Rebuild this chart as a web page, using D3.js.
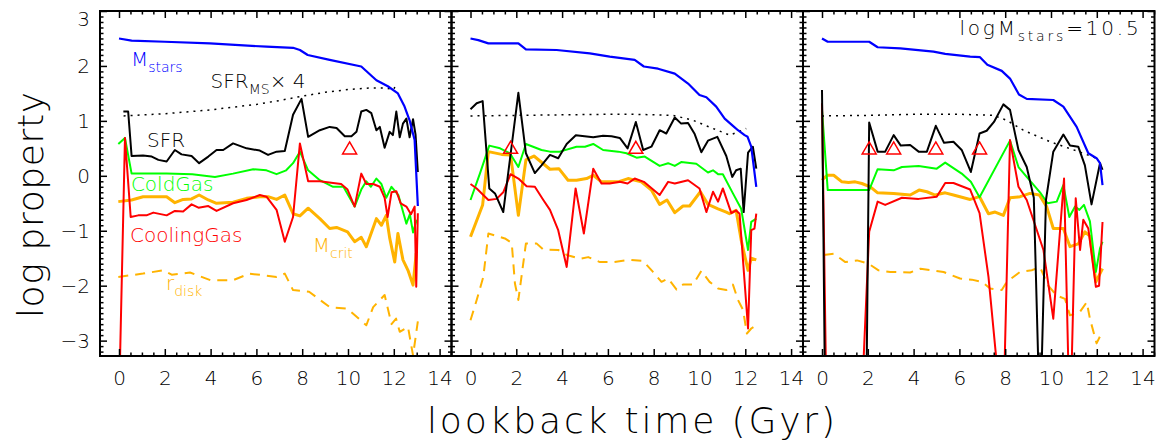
<!DOCTYPE html>
<html><head><meta charset="utf-8">
<script src="https://cdn.jsdelivr.net/npm/d3@7/dist/d3.min.js"></script>
<style>
body{margin:0;background:#fff;}
svg text{font-family:"DejaVu Sans",sans-serif;font-weight:200;}
</style></head>
<body><svg id="c" width="1160" height="444"></svg>
<script>
// ---------- data ----------
const xTicksMajor = [0,2,4,6,8,10,12,14];
const yTicksMajor = [-3,-2,-1,0,1,2,3];
const xDomain = [-0.83, 14.52];
const yDomain = [-3.28, 3.0];

// Panel 1
const p1Mstars = [[0,2.50],[0.55,2.46],[2,2.44],[3.97,2.41],[6.44,2.35],[7.6,2.33],[7.9,2.29],[8.24,2.20],[9.2,2.11],[10.58,1.99],[11.24,1.74],[11.74,1.63],[12.18,1.50],[12.47,1.26],[12.69,1.01],[12.91,0.65],[13.05,-0.55]];
const p1SfrMS = [[0.2,1.09],[2,1.13],[4,1.2],[6,1.3],[7,1.37],[8,1.45],[9,1.52],[10,1.57],[11,1.6],[11.6,1.6],[12.0,1.57],[12.1,1.68]];
const p1SFR = [[0.19,1.17],[0.4,1.17],[0.55,0.36],[1.05,0.37],[1.43,0.35],[1.72,0.29],[2.08,0.26],[2.44,0.47],[2.73,0.39],[3.17,0.36],[3.5,0.23],[3.9,0.35],[4.26,0.47],[4.55,0.47],[4.98,0.59],[5.57,0.5],[6.15,0.46],[6.51,0.38],[6.88,0.44],[7.24,0.45],[7.6,1.11],[7.97,1.4],[8.26,0.71],[8.77,0.83],[9.2,0.89],[9.5,0.87],[9.86,0.72],[10.15,0.72],[10.37,0.8],[10.58,1.17],[10.8,1.2],[11.02,1.14],[11.24,0.83],[11.39,0.89],[11.6,0.51],[11.82,0.8],[11.96,0.74],[12.11,1.17],[12.26,0.7],[12.4,0.95],[12.55,1.04],[12.69,0.7],[12.84,1.03],[12.95,0.75],[13.05,0.07]];
const p1Cold = [[-0.03,0.58],[0.26,0.69],[0.55,0.04],[1.05,0.04],[2.08,0.04],[3.2,0.03],[4.19,-0.02],[4.98,0.04],[5.86,0.12],[6.44,0.1],[6.88,0.03],[7.3,0.1],[7.6,0.23],[7.9,0.44],[8.26,0.1],[8.77,-0.08],[9.35,-0.2],[9.8,-0.2],[10.29,-0.56],[10.58,-0.25],[10.8,-0.1],[11.0,-0.2],[11.24,-0.05],[11.46,-0.15],[11.67,-0.4],[11.9,-0.2],[12.2,-0.35],[12.4,-0.65],[12.55,-0.87],[12.7,-0.7],[12.84,-1.03],[13.0,-0.8]];
const p1Cool = [[0.03,-3.6],[0.26,0.69],[0.51,-0.75],[0.84,-0.72],[1.2,-0.72],[1.5,-0.67],[2.08,-0.72],[2.44,-0.64],[2.8,-0.65],[3.17,-0.52],[3.47,-0.58],[3.9,-0.55],[4.26,-0.64],[4.98,-0.5],[5.57,-0.44],[6.15,-0.35],[6.44,-0.38],[6.88,-0.62],[7.24,-1.2],[7.6,-0.75],[7.9,0.59],[8.26,-0.1],[8.77,-0.1],[9.35,-0.13],[9.7,-0.15],[9.98,-0.25],[10.29,-0.56],[10.58,0.04],[10.8,-0.15],[11.1,-0.15],[11.39,-0.2],[11.6,-0.4],[11.73,-0.75],[11.9,-0.3],[12.11,-0.28],[12.3,-0.5],[12.55,-0.56],[12.75,-0.7],[12.91,-0.56],[12.98,-2.02],[13.05,-0.68]];
const p1Mcrit = [[-0.03,-0.47],[0.55,-0.44],[1.05,-0.38],[1.45,-0.38],[2.08,-0.38],[2.44,-0.49],[2.8,-0.43],[3.17,-0.42],[3.5,-0.35],[3.9,-0.44],[4.26,-0.5],[4.98,-0.48],[5.57,-0.41],[6.15,-0.38],[6.51,-0.38],[6.88,-0.43],[7.24,-0.35],[7.6,-0.69],[7.9,-0.73],[8.26,-0.59],[8.77,-0.78],[9.2,-0.96],[9.5,-0.94],[9.98,-1.02],[10.29,-1.2],[10.58,-1.12],[10.8,-1.29],[11.24,-0.78],[11.46,-0.9],[11.67,-0.72],[11.82,-1.13],[12.04,-1.57],[12.18,-1.05],[12.4,-1.53],[12.62,-1.72],[12.84,-1.99],[12.98,-1.41]];
const p1Rdisk = [[-0.03,-1.84],[1.05,-1.78],[1.92,-1.72],[2.3,-1.8],[3.1,-1.76],[4.0,-1.9],[4.98,-1.9],[5.7,-1.78],[6.88,-1.84],[7.24,-1.78],[7.6,-2.08],[8.3,-2.11],[9.2,-2.39],[9.98,-2.42],[10.8,-2.72],[11.1,-2.39],[11.6,-2.17],[11.9,-2.7],[12.1,-2.6],[12.26,-2.84],[12.62,-2.75],[12.84,-3.27],[13.05,-2.65]];
const p1Tri = [[10.07,0.49]];

// Panel 2
const p2Mstars = [[0,2.5],[0.34,2.47],[0.78,2.41],[2.09,2.41],[2.42,2.3],[3.76,2.29],[5.21,2.23],[6.08,2.17],[7.17,2.11],[7.57,1.99],[8.19,1.95],[8.92,1.86],[9.5,1.68],[10.0,1.47],[10.3,1.43],[10.73,1.26],[11.1,1.04],[11.46,0.91],[11.68,0.83],[11.97,0.74],[12.1,0.71],[12.26,0.53],[12.48,-0.2]];
const p2SfrMS = [[0,1.09],[2,1.1],[4,1.11],[6,1.12],[7.1,1.12],[8.85,1.1],[9.72,1.01],[10.3,0.91],[11.32,0.74],[12.04,0.86]];
const p2SFR = [[0,1.21],[0.27,1.32],[0.53,1.36],[0.82,-0.23],[1.07,-0.32],[1.43,-0.66],[2.09,1.51],[2.42,0.41],[2.81,0.05],[3.1,0.19],[3.47,0.38],[3.83,0.32],[4.2,0.58],[4.6,0.74],[5.36,0.7],[5.79,0.73],[6.16,0.72],[6.52,0.69],[6.86,0.5],[7.22,0.98],[7.54,0.47],[7.9,0.53],[8.26,0.83],[8.55,0.77],[8.92,1.06],[9.2,0.95],[9.5,0.96],[9.79,0.76],[10.08,0.43],[10.37,0.64],[10.78,0.71],[11.17,0.36],[11.43,-0.02],[11.6,0.1],[11.8,0.13],[11.93,-0.66],[12.12,0.42],[12.33,0.53],[12.48,0.13]];
const p2Cold = [[0,-0.44],[0.41,0.04],[0.82,0.55],[1.29,0.5],[1.72,0.41],[2.09,0.16],[2.42,0.58],[3.1,0.47],[3.47,0.44],[3.9,0.44],[4.63,0.53],[5.0,0.53],[5.36,0.58],[5.79,0.47],[6.45,0.44],[6.81,0.41],[7.25,0.33],[7.61,0.35],[8.26,0.18],[8.63,0.23],[8.92,0.18],[9.2,0.25],[9.86,0.22],[10.37,0.06],[10.59,0.1],[10.81,0.03],[11.02,0.03],[11.46,-0.32],[11.82,-0.6],[12.12,-1.35],[12.26,-0.84],[12.48,-0.78]];
const p2Cool = [[0,-0.15],[0.27,-0.23],[0.78,-0.44],[1.14,-0.42],[1.43,-0.3],[1.75,0.03],[2.09,-0.05],[2.45,-0.19],[2.81,-0.2],[3.18,-0.44],[3.47,-0.62],[3.83,-0.99],[4.2,-1.66],[4.59,-0.23],[4.95,-1.05],[5.36,0.13],[5.72,-0.14],[6.08,-0.14],[6.52,-0.11],[6.86,-0.14],[7.17,-0.05],[7.57,-0.11],[8.26,-0.35],[8.63,-0.11],[8.92,-0.14],[9.5,-0.08],[10.0,-0.23],[10.3,-0.66],[10.59,-0.29],[10.81,-0.47],[11.02,-0.23],[11.39,-0.68],[11.6,-0.63],[11.75,-0.69],[12.12,-2.78],[12.26,-0.99],[12.4,-0.96],[12.48,-0.69]];
const p2Mcrit = [[0,-1.11],[0.53,-0.53],[0.78,0.44],[1.36,0.39],[1.75,0.38],[2.09,-0.72],[2.42,0.29],[2.77,0.36],[3.47,0.12],[3.86,0.13],[4.26,-0.08],[4.63,-0.08],[5.07,-0.05],[5.36,0.01],[5.72,-0.11],[6.45,-0.11],[6.88,-0.05],[7.46,-0.11],[7.9,-0.26],[8.26,-0.52],[8.58,-0.44],[8.92,-0.67],[9.28,-0.55],[9.57,-0.55],[10.04,-0.29],[10.37,-0.52],[10.81,-0.6],[11.17,-0.66],[11.31,-0.69],[11.6,-0.63],[11.82,-1.17],[12.12,-1.72],[12.26,-1.5],[12.48,-1.53]];
const p2Rdisk = [[0,-2.63],[0.27,-2.26],[0.56,-1.84],[0.78,-1.05],[1.5,-1.14],[1.8,-1.22],[1.94,-1.96],[2.09,-2.26],[2.42,-1.23],[2.88,-1.23],[3.17,-1.34],[3.83,-1.35],[4.2,-1.44],[4.78,-1.51],[5.14,-1.48],[5.65,-1.57],[6.23,-1.57],[6.96,-1.53],[7.54,-1.55],[7.97,-1.75],[8.34,-1.93],[8.63,-1.87],[9.0,-2.07],[9.28,-1.98],[9.72,-1.98],[10.08,-1.73],[10.44,-1.93],[10.81,-2.05],[11.17,-2.08],[11.46,-1.98],[11.68,-2.26],[11.9,-2.44],[12.07,-2.87],[12.26,-2.78],[12.48,-2.72]];
const p2Tri = [[1.75,0.5],[7.22,0.5]];

// Panel 3
const p3Mstars = [[0,2.5],[0.25,2.44],[2.06,2.44],[2.43,2.34],[3.42,2.32],[4.87,2.26],[5.38,2.22],[6.47,2.17],[6.9,2.16],[7.22,2.02],[7.85,1.91],[8.21,1.77],[8.6,1.48],[8.94,1.4],[10.1,1.38],[10.54,1.26],[11.12,0.89],[11.63,0.41],[11.99,0.32],[12.14,0.23],[12.25,-0.17]];
const p3SfrMS = [[0,1.09],[2,1.1],[4,1.12],[6,1.12],[7.49,1.1],[8.07,1.01],[8.79,0.83],[9.96,0.62],[11.41,0.41],[12.1,0.3]];
const p3SFR = [[0,1.56],[0.12,-3.5],[1.95,-3.5],[2.06,0.97],[2.43,0.44],[2.76,0.44],[3.13,0.74],[3.44,0.55],[3.85,0.56],[4.22,0.44],[4.58,0.44],[4.97,0.91],[5.33,0.6],[5.74,0.62],[6.1,0.47],[6.5,0.07],[6.88,0.77],[7.19,0.82],[7.51,0.98],[7.92,1.3],[8.21,1.2],[8.58,0.47],[8.94,0.16],[9.25,-0.4],[9.45,-3.5],[9.59,-3.5],[9.78,-0.44],[10.1,0.44],[10.54,0.75],[10.83,0.55],[11.19,0.53],[11.48,0.19],[11.77,-0.52],[12.14,0.23],[12.25,0.11]];
const p3Cold = [[0,1.2],[0.25,-0.26],[2.06,-0.26],[2.43,0.12],[3.13,0.1],[3.49,0.16],[4.22,0.18],[5.01,0.13],[5.38,0.24],[6.1,0.04],[6.5,-0.11],[6.88,-0.39],[8.21,0.64],[8.58,0.16],[8.94,-0.02],[9.52,-0.3],[9.85,-0.5],[10.25,-0.47],[10.54,-0.17],[10.8,-0.75],[11.05,-0.56],[11.24,-0.62],[11.44,-0.53],[11.7,-0.83],[11.96,-1.75],[12.14,-1.32],[12.25,-1.2]];
const p3Cool = [[0,1.32],[0.17,-3.5],[1.8,-3.5],[2.06,-1.02],[2.43,-0.47],[2.76,-0.53],[3.49,-0.4],[4.22,-0.42],[5.01,-0.38],[5.38,-0.13],[5.74,-0.13],[6.47,-0.25],[6.88,-0.68],[7.27,-1.84],[7.65,-3.5],[7.97,-3.5],[8.21,0.65],[8.58,-0.2],[8.94,-0.44],[9.67,-1.35],[10.1,-2.6],[10.57,-0.05],[10.76,-3.5],[10.9,-3.5],[11.08,-0.41],[11.27,-1.35],[11.41,-0.8],[11.63,-0.96],[11.96,-2.02],[12.1,-2.0],[12.25,-0.84]];
const p3Mcrit = [[0,-0.08],[0.22,0.01],[0.51,0.01],[0.87,-0.11],[1.16,-0.12],[1.45,-0.11],[1.74,-0.14],[2.11,-0.2],[2.43,-0.31],[3.13,-0.32],[3.85,-0.35],[4.24,-0.26],[4.58,-0.29],[4.94,-0.35],[5.38,-0.31],[5.74,-0.35],[6.47,-0.43],[6.88,-0.38],[7.27,-0.69],[7.56,-0.66],[7.92,-0.72],[8.21,-0.4],[8.65,-0.38],[9.08,-0.32],[9.49,-0.35],[9.81,-0.56],[10.1,-0.96],[10.54,-0.96],[10.83,-1.29],[11.19,-1.24],[11.48,-1.02],[11.7,-1.1],[11.96,-1.93],[12.25,-1.69]];
const p3Rdisk = [[0.07,-1.44],[0.51,-1.42],[1.02,-1.57],[1.53,-1.54],[2.03,-1.6],[2.47,-1.72],[2.98,-1.75],[3.85,-1.76],[4.3,-1.69],[5.31,-1.75],[6.03,-1.87],[6.54,-1.89],[6.98,-1.93],[7.34,-2.05],[7.85,-2.08],[8.07,-1.93],[8.65,-1.75],[9.16,-1.72],[9.52,-1.66],[9.88,-2.0],[10.25,-2.18],[10.61,-2.24],[10.83,-2.54],[11.26,-2.48],[11.56,-2.3],[11.7,-2.6],[11.99,-3.05],[12.25,-2.83]];
const p3Tri = [[2.06,0.49],[3.13,0.49],[4.97,0.49],[6.88,0.49]];

// ---------- layout ----------
const svg = d3.select("#c");
const topM = 11, H = 345, W = 351.5;
const panelLeft = [100, 451.5, 803];
const x = d3.scaleLinear().domain(xDomain).range([0, W]);
const y = d3.scaleLinear().domain(yDomain).range([H, 0]);
const line = d3.line().x(d => x(d[0])).y(d => y(d[1]));

const COL = {blue:"#0000ff", black:"#000", green:"#00ff00", red:"#ff0000", orange:"#ffb300"};

const panels = [
  {Mstars:p1Mstars, SfrMS:p1SfrMS, SFR:p1SFR, Cold:p1Cold, Cool:p1Cool, Mcrit:p1Mcrit, Rdisk:p1Rdisk, Tri:p1Tri},
  {Mstars:p2Mstars, SfrMS:p2SfrMS, SFR:p2SFR, Cold:p2Cold, Cool:p2Cool, Mcrit:p2Mcrit, Rdisk:p2Rdisk, Tri:p2Tri},
  {Mstars:p3Mstars, SfrMS:p3SfrMS, SFR:p3SFR, Cold:p3Cold, Cool:p3Cool, Mcrit:p3Mcrit, Rdisk:p3Rdisk, Tri:p3Tri}
];

const xMinor = d3.range(0, 14.51, 0.5).filter(v => v % 2 !== 0);
const yMinor = d3.range(-32, 31).map(v => v/10).filter(v => Math.abs(v - Math.round(v)) > 1e-6);

panels.forEach((P, i) => {
  const g = svg.append("g").attr("transform", `translate(${panelLeft[i]},${topM})`);
  const cid = "clip" + i;
  g.append("clipPath").attr("id", cid).append("rect").attr("width", W).attr("height", H);
  const L = g.append("g").attr("clip-path", `url(#${cid})`);

  const draw = (data, color, w, dash) => {
    const p = L.append("path").datum(data).attr("d", line).attr("fill", "none")
      .attr("stroke", color).attr("stroke-width", w).attr("stroke-linejoin", "round");
    if (dash) p.attr("stroke-dasharray", dash);
  };
  draw(P.Rdisk, COL.orange, 2, "10,7");
  draw(P.Mcrit, COL.orange, 3);
  draw(P.Cold, COL.green, 2);
  draw(P.Cool, COL.red, 2);
  draw(P.SFR, COL.black, 2);
  draw(P.SfrMS, COL.black, 1.5, "2,5");
  draw(P.Mstars, COL.blue, 2.2);

  L.selectAll("path.tri").data(P.Tri).join("path").attr("class","tri")
    .attr("d", d => { const cx = x(d[0]), cy = y(d[1]); return `M${cx},${cy-7}L${cx+7},${cy+5}L${cx-7},${cy+5}Z`; })
    .attr("fill", "none").attr("stroke", COL.red).attr("stroke-width", 1.5);

  const styleAxis = a => { a.select(".domain").remove(); a.selectAll("line").attr("stroke","#000").attr("stroke-width",1.5); a.selectAll("text").attr("font-size",20).attr("fill","#000").attr("font-family","DejaVu Sans, sans-serif"); return a; };
  styleAxis(g.append("g").attr("transform", `translate(0,${H})`)
    .call(d3.axisBottom(x).tickValues(xTicksMajor).tickSizeInner(-7).tickSizeOuter(0).tickPadding(15).tickFormat(d3.format("d"))));
  styleAxis(g.append("g").attr("transform", `translate(0,${H})`).call(d3.axisBottom(x).tickValues(xMinor).tickSizeInner(-3.5).tickSizeOuter(0).tickFormat("")));
  styleAxis(g.append("g").call(d3.axisTop(x).tickValues(xTicksMajor).tickSizeInner(-7).tickSizeOuter(0).tickFormat("")));
  styleAxis(g.append("g").call(d3.axisTop(x).tickValues(xMinor).tickSizeInner(-3.5).tickSizeOuter(0).tickFormat("")));
  const yl = styleAxis(g.append("g").call(d3.axisLeft(y).tickValues(yTicksMajor).tickSizeInner(-7).tickSizeOuter(0).tickPadding(10)
    .tickFormat(i === 0 ? d3.format("d") : "")));
  yl.selectAll(".tick").filter(d => d === 3).select("text").attr("dy", "0.72em");
  styleAxis(g.append("g").call(d3.axisLeft(y).tickValues(yMinor).tickSizeInner(-3.5).tickSizeOuter(0).tickFormat("")));
  styleAxis(g.append("g").attr("transform", `translate(${W},0)`).call(d3.axisRight(y).tickValues(yTicksMajor).tickSizeInner(-7).tickSizeOuter(0).tickFormat("")));
  styleAxis(g.append("g").attr("transform", `translate(${W},0)`).call(d3.axisRight(y).tickValues(yMinor).tickSizeInner(-3.5).tickSizeOuter(0).tickFormat("")));

  g.append("rect").attr("width", W).attr("height", H).attr("fill","none").attr("stroke","#000").attr("stroke-width",2);

  const T = (t, v, color, parts, anchor, ls) => {
    const tx = g.append("text").attr("x", x(t)).attr("y", y(v)).attr("fill", color).attr("font-size", 20)
      .attr("text-anchor", anchor || "start");
    if (ls) tx.attr("letter-spacing", ls);
    parts.forEach(p => {
      const s = tx.append("tspan").text(p[0]);
      if (p[1] === "sub") s.attr("font-size", 14).attr("dy", 6);
      if (p[1] === "up") s.attr("dy", -6);
    });
  };
  if (i === 0) {
    T(0.52, 2.0, COL.blue, [["M"],["stars","sub"]]);
    T(4.0, 1.6, COL.black, [["SFR"],["MS","sub"],["× 4","up"]]);
    T(1.22, 0.52, COL.black, [["SFR"]]);
    T(0.52, -0.28, COL.green, [["ColdGas"]]);
    T(0.48, -1.21, COL.red, [["CoolingGas"]]);
    T(8.46, -1.39, COL.orange, [["M"],["crit","sub"]]);
    T(2.05, -2.08, COL.orange, [["r"],["disk","sub"]]);
  }
  if (i === 2) {
    T(13.95, 2.56, COL.black, [["logM"],["stars","sub"],["=10.5","up"]], "end", 2.8);
  }
});

svg.append("text").attr("transform","translate(43,318) rotate(-90)").attr("text-anchor","start")
  .attr("font-size",36).attr("fill","#000").attr("textLength",226).attr("lengthAdjust","spacing").text("log property");
svg.append("text").attr("x",427).attr("y",433).attr("text-anchor","start")
  .attr("font-size",36).attr("fill","#000").attr("textLength",408).attr("lengthAdjust","spacing").text("lookback time (Gyr)");
</script></body></html>
